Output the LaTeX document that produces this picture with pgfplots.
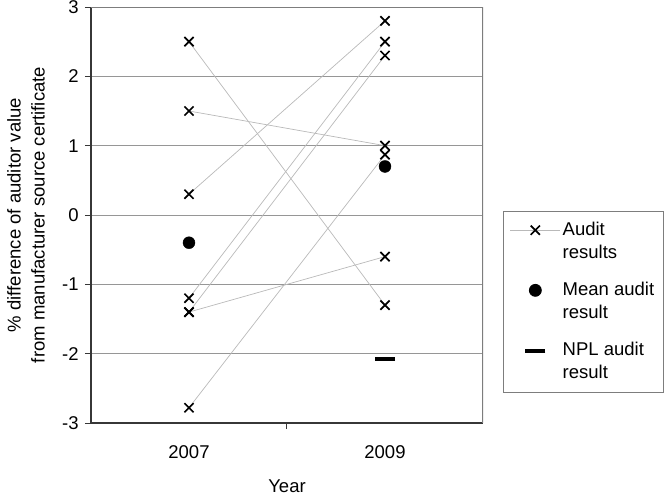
\documentclass[border=0pt]{standalone}
\usepackage{pgfplots}
\pgfplotsset{compat=1.18}
\usepackage{fontspec}
\setmainfont{Liberation Sans}

\definecolor{linegray}{RGB}{185,185,185}
\definecolor{gridgray}{RGB}{150,150,150}
\definecolor{framegray}{RGB}{125,125,125}
\definecolor{axisdark}{RGB}{55,55,55}

\pgfplotsset{
  audit/.style={linegray, line width=0.7pt, mark=x, mark size=6.5pt,
    mark options={black, line width=1.7pt}},
}

\begin{document}
\fontsize{18.5}{23}\selectfont
\begin{tikzpicture}
\path[use as bounding box] (-91pt,-73pt) rectangle (573pt,423pt);
\begin{axis}[
  scale only axis,
  width=392pt, height=416pt,
  xmin=0.5, xmax=2.5,
  ymin=-3, ymax=3,
  axis lines=left,
  axis line style={-, axisdark, line width=1.3pt},
  ymajorgrids,
  grid style={gridgray, line width=0.9pt},
  ytick={-3,-2,-1,0,1,2,3},
  tick align=outside,
  major tick length=6pt,
  ytick style={axisdark, line width=1pt},
  xtick={1,2},
  xticklabels={2007,2009},
  xtick style={draw=none},
  extra x ticks={1.5},
  extra x tick labels={},
  extra x tick style={xtick style={draw=axisdark, line width=1pt}},
  xticklabel style={yshift=-10pt},
  /pgf/number format/assume math mode=true,
  tick label style={font=\fontsize{18.5}{23}\selectfont},
  xlabel={Year},
  xlabel style={at={(axis description cs:0.5,-0.151)}, anchor=center},
  ylabel={\% difference of auditor value\\from manufacturer source certificate},
  ylabel style={at={(axis description cs:-0.166,0.5)}, anchor=center, align=center},
  label style={font=\fontsize{18.5}{24}\selectfont},
  legend style={at={(axis description cs:1.05,0.0721)}, anchor=south west,
    draw=framegray, line width=0.8pt, font=\fontsize{18.5}{23}\selectfont,
    row sep=17pt, inner xsep=7pt, inner ysep=9pt,
    nodes={align=left}},
  legend cell align=left,
  legend image code/.code={\draw[mark repeat=2,mark phase=2,yshift=11.5pt,#1] plot coordinates {(0pt,0pt) (25pt,0pt) (50pt,0pt)};},
]
\draw[framegray, line width=1.2pt] (rel axis cs:0,1) -- (rel axis cs:1,1) -- (rel axis cs:1,0);

\addplot[audit] coordinates {(1,2.5) (2,-1.3)};
\addlegendentry{Audit\\results}
\addplot[audit, forget plot] coordinates {(1,1.5) (2,1.0)};
\addplot[audit, forget plot] coordinates {(1,0.3) (2,2.8)};
\addplot[audit, forget plot] coordinates {(1,-1.2) (2,2.5)};
\addplot[audit, forget plot] coordinates {(1,-1.4) (2,2.3)};
\addplot[audit, forget plot] coordinates {(1,-1.4) (2,-0.6)};
\addplot[audit, forget plot] coordinates {(1,-2.78) (2,0.87)};

\addplot[only marks, mark=*, mark size=6pt, black] coordinates {(1,-0.4) (2,0.7)};
\addlegendentry{Mean audit\\result}
\addplot[only marks, mark=-, mark size=10pt, mark options={line width=4pt}, black] coordinates {(2,-2.08)};
\addlegendentry{NPL audit\\result}
\end{axis}
\end{tikzpicture}
\end{document}
